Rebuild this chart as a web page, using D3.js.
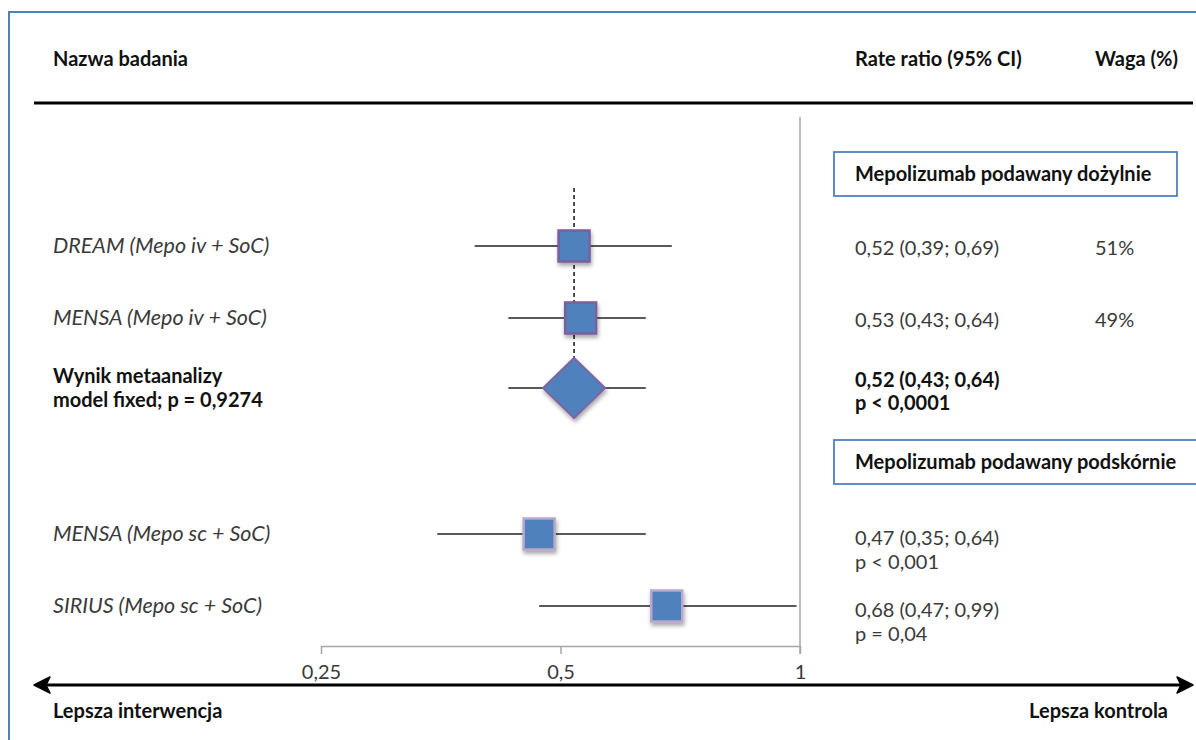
<!DOCTYPE html>
<html>
<head>
<meta charset="utf-8">
<script src="https://cdn.jsdelivr.net/npm/d3@7"></script>
<style>
  html, body { margin: 0; padding: 0; background: #fff; }
  svg { display: block; }
  text { font-family: Lato, "Open Sans", sans-serif; }
</style>
</head>
<body>
<svg id="chart" width="1196" height="740"></svg>
<script>
// ---------- data ----------
const studyLabels = ["DREAM (Mepo iv + SoC)", "MENSA (Mepo iv + SoC)", "MENSA (Mepo sc + SoC)", "SIRIUS (Mepo sc + SoC)"];
const studySlots  = [0, 1, 4, 5];
const rateRatio   = [0.52, 0.53, 0.47, 0.68];
const ciLower     = [0.39, 0.43, 0.35, 0.47];
const ciUpper     = [0.69, 0.64, 0.64, 0.99];
const ciText      = ["0,52 (0,39; 0,69)", "0,53 (0,43; 0,64)", "0,47 (0,35; 0,64)", "0,68 (0,47; 0,99)"];
const pText       = ["", "", "p < 0,001", "p = 0,04"];
const weightText  = ["51%", "49%", "", ""];
const studyGroup  = [0, 0, 1, 1];

const metaLabel   = ["Wynik metaanalizy", "model fixed; p = 0,9274"];
const metaSlot    = 2;
const metaRR      = 0.52;
const metaLower   = 0.43;
const metaUpper   = 0.64;
const metaText    = ["0,52 (0,43; 0,64)", "p < 0,0001"];

const groupLabels = ["Mepolizumab podawany dożylnie", "Mepolizumab podawany podskórnie"];
const groupSlots  = [-1, 3];

const tickValues  = [0.25, 0.5, 1];
const tickLabels  = ["0,25", "0,5", "1"];

const headers     = ["Nazwa badania", "Rate ratio (95% CI)", "Waga (%)"];
const directions  = ["Lepsza interwencja", "Lepsza kontrola"];

// ---------- layout ----------
const svg = d3.select("#chart");
const x = d3.scaleLog().domain([0.25, 1]).range([321, 800]);
const y = d3.scaleLinear().domain([-1, 5]).range([174, 606]);
const textX = 53, ciX = 855, wX = 1095;
const axisY = 646;
const FS = 20, FSI = 21.5;
const dark = "#111", gray = "#3a3a3a";

const defs = svg.append("defs");
const f = defs.append("filter").attr("id", "shadow").attr("x", "-30%").attr("y", "-30%").attr("width", "170%").attr("height", "170%");
f.append("feDropShadow").attr("dx", 1).attr("dy", 3).attr("stdDeviation", 2).attr("flood-color", "#000").attr("flood-opacity", 0.35);

// frame
svg.append("rect").attr("x", 9).attr("y", 12).attr("width", 1220).attr("height", 760)
  .attr("fill", "none").attr("stroke", "#4F81BD").attr("stroke-width", 2);

// headers
svg.append("text").attr("x", textX).attr("y", 66).text(headers[0])
  .attr("font-size", FS).attr("font-weight", "bold").attr("fill", dark);
svg.append("text").attr("x", ciX).attr("y", 66).text(headers[1])
  .attr("font-size", FS).attr("font-weight", "bold").attr("fill", dark);
svg.append("text").attr("x", wX).attr("y", 66).text(headers[2])
  .attr("font-size", FS).attr("font-weight", "bold").attr("fill", dark);
svg.append("line").attr("x1", 34).attr("x2", 1193).attr("y1", 103).attr("y2", 103)
  .attr("stroke", "#000").attr("stroke-width", 3);

// reference line at 1
svg.append("line").attr("x1", x(1)).attr("x2", x(1)).attr("y1", 117).attr("y2", axisY + 8)
  .attr("stroke", "#A6A6A6").attr("stroke-width", 1.5);

// axis
const axis = d3.axisBottom(x).tickValues(tickValues).tickFormat((d, i) => tickLabels[i]).tickSize(8).tickSizeOuter(0);
const ax = svg.append("g").attr("transform", `translate(0,${axisY})`).call(axis);
ax.select(".domain").attr("stroke", "#A6A6A6").attr("stroke-width", 1.5);
ax.selectAll(".tick line").attr("stroke", "#A6A6A6").attr("stroke-width", 1.5);
ax.selectAll(".tick text").attr("font-family", "Lato, sans-serif").attr("font-size", FS)
  .attr("fill", gray).attr("dy", 0).attr("y", 33);

// dashed line through meta estimate
svg.append("line").attr("x1", x(metaRR)).attr("x2", x(metaRR))
  .attr("y1", y(0) - 58).attr("y2", y(metaSlot) - 31)
  .attr("stroke", "#000").attr("stroke-width", 1.4).attr("stroke-dasharray", "4,3");

// group boxes
groupLabels.forEach((g, i) => {
  const cy = y(groupSlots[i]);
  svg.append("rect").attr("x", 834).attr("y", cy - 22).attr("width", i === 0 ? 343 : 400).attr("height", 44)
    .attr("fill", "#fff").attr("stroke", "#4F81BD").attr("stroke-width", 1.8);
  svg.append("text").attr("x", ciX).attr("y", cy + 7).text(g)
    .attr("font-size", FS).attr("font-weight", "bold").attr("fill", dark);
});

// studies
studyLabels.forEach((s, i) => {
  const cy = y(studySlots[i]);
  svg.append("text").attr("x", textX).attr("y", cy + 7).text(s)
    .attr("font-size", FSI).attr("font-style", "italic").attr("fill", gray);
  svg.append("line").attr("x1", x(ciLower[i])).attr("x2", x(ciUpper[i])).attr("y1", cy).attr("y2", cy)
    .attr("stroke", "#222").attr("stroke-width", 1.5);
  const sz = 31;
  svg.append("rect").attr("x", x(rateRatio[i]) - sz / 2).attr("y", cy - sz / 2).attr("width", sz).attr("height", sz)
    .attr("fill", "#4F81BD").attr("stroke", studyGroup[i] === 0 ? "#7B5E9E" : "#B8A8CC").attr("stroke-width", 2.5)
    .attr("filter", "url(#shadow)");
  const hasP = pText[i] !== "";
  svg.append("text").attr("x", ciX).attr("y", hasP ? cy + 11 : cy + 9).text(ciText[i])
    .attr("font-size", FS).attr("fill", gray);
  if (hasP) svg.append("text").attr("x", ciX).attr("y", cy + 35).text(pText[i])
    .attr("font-size", FS).attr("fill", gray);
  if (weightText[i]) svg.append("text").attr("x", wX).attr("y", cy + 9).text(weightText[i])
    .attr("font-size", FS).attr("fill", gray);
});

// meta analysis
{
  const cy = y(metaSlot) - 2;
  svg.append("text").attr("x", textX).attr("y", cy - 5).text(metaLabel[0])
    .attr("font-size", FS).attr("font-weight", "bold").attr("fill", dark);
  svg.append("text").attr("x", textX).attr("y", cy + 19).text(metaLabel[1])
    .attr("font-size", FS).attr("font-weight", "bold").attr("fill", dark);
  svg.append("line").attr("x1", x(metaLower)).attr("x2", x(metaUpper)).attr("y1", cy).attr("y2", cy)
    .attr("stroke", "#222").attr("stroke-width", 1.5);
  const cx = x(metaRR), hw = 31, hh = 30;
  svg.append("path").attr("d", `M${cx},${cy - hh}L${cx + hw},${cy}L${cx},${cy + hh}L${cx - hw},${cy}Z`)
    .attr("fill", "#4F81BD").attr("stroke", "#8064A2").attr("stroke-width", 2)
    .attr("filter", "url(#shadow)");
  svg.append("text").attr("x", ciX).attr("y", cy - 1).text(metaText[0])
    .attr("font-size", FS).attr("font-weight", "bold").attr("fill", dark);
  svg.append("text").attr("x", ciX).attr("y", cy + 22).text(metaText[1])
    .attr("font-size", FS).attr("font-weight", "bold").attr("fill", dark);
}

// direction arrow
const arrowY = 685;
svg.append("line").attr("x1", 40).attr("x2", 1187).attr("y1", arrowY).attr("y2", arrowY)
  .attr("stroke", "#000").attr("stroke-width", 3);
svg.append("path").attr("d", `M34,${arrowY}L50,${arrowY - 8}L46,${arrowY}L50,${arrowY + 8}Z`).attr("fill", "#000").attr("stroke", "#000").attr("stroke-width", 1.5).attr("stroke-linejoin", "round");
svg.append("path").attr("d", `M1193,${arrowY}L1177,${arrowY - 8}L1181,${arrowY}L1177,${arrowY + 8}Z`).attr("fill", "#000").attr("stroke", "#000").attr("stroke-width", 1.5).attr("stroke-linejoin", "round");
svg.append("text").attr("x", textX).attr("y", 718).text(directions[0])
  .attr("font-size", FS).attr("font-weight", "bold").attr("fill", dark);
svg.append("text").attr("x", 1168).attr("y", 718).attr("text-anchor", "end").text(directions[1])
  .attr("font-size", FS).attr("font-weight", "bold").attr("fill", dark);
</script>
</body>
</html>
